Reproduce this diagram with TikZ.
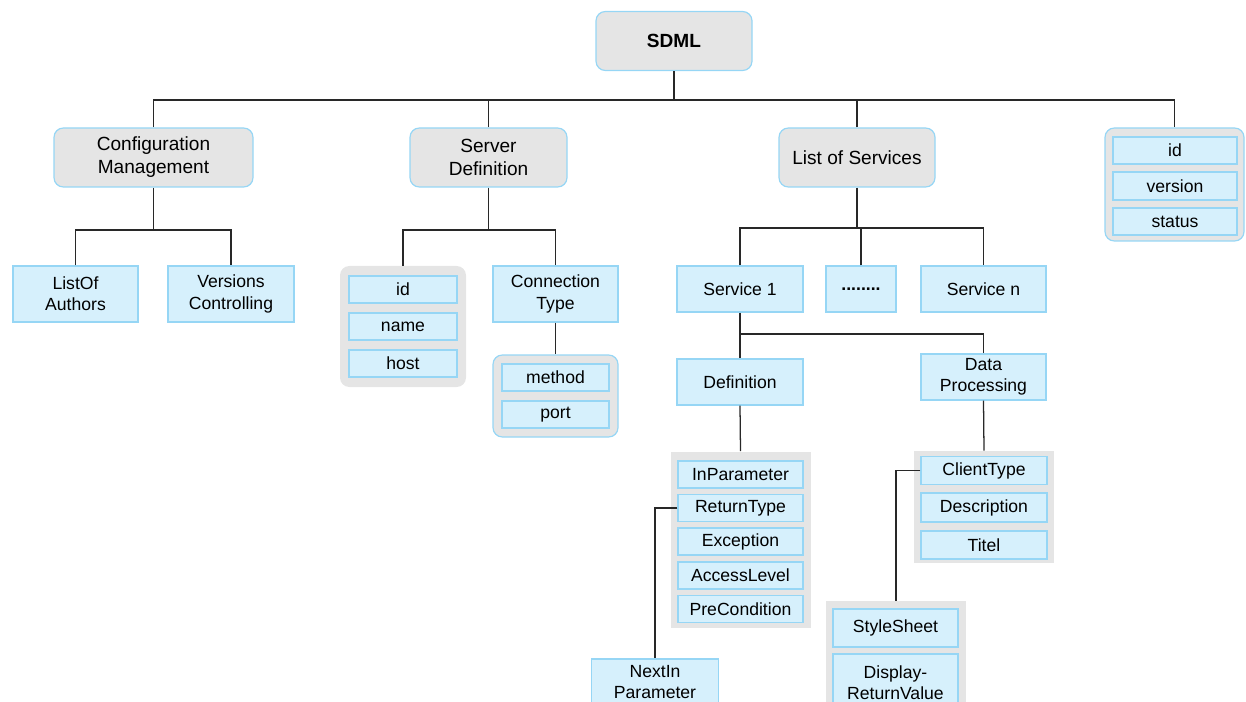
\documentclass[tikz,border=0pt]{standalone}
\usepackage{fontspec}
\setmainfont{Liberation Sans}
\definecolor{boxfill}{RGB}{214,240,252}
\definecolor{boxline}{RGB}{150,214,245}
\definecolor{grpfill}{RGB}{229,229,229}
\definecolor{wire}{RGB}{40,40,40}
\tikzset{
  sz/.style 2 args={minimum width=#1*0.75pt, minimum height=#2*0.75pt},
  topbox/.style={draw=boxline, line width=0.9pt, fill=grpfill, rounded corners=7pt,
    inner sep=0pt, align=center, font=\fontsize{14.3}{17.2}\selectfont},
  item/.style={draw=boxline, line width=0.9pt, fill=boxfill, inner sep=0pt,
    align=center, font=\fontsize{13.2}{16}\selectfont},
  grp/.style={fill=grpfill, inner sep=0pt},
  rgrp/.style={grp, rounded corners=7pt},
  bgrp/.style={rgrp, draw=boxline, line width=0.9pt},
  wirestyle/.style={draw=wire, line width=0.95pt},
}
\begin{document}
\begin{tikzpicture}[x=0.75pt,y=-0.75pt]
\useasboundingbox (0,0) rectangle (1246,702);
\clip (0,0) rectangle (1246,702);

% top level
\node[topbox, sz={156}{59}, font=\fontsize{14.3}{17.2}\selectfont\bfseries] (sdml) at (674,41) {SDML};
\node[topbox, sz={199}{59}] (cm) at (153.5,157.5) {Configuration\\Management};
\node[topbox, sz={157}{59}] (sd) at (488.5,157.5) {Server\\Definition};
\node[topbox, sz={156}{59}] (ls) at (857,157.5) {List of Services};

% attribute group on the right
\node[bgrp, sz={139}{113}] (rg) at (1174.5,184.5) {};
\node[item, sz={124}{27}] (rid) at (1175,150.5) {id};
\node[item, sz={124}{28}] (rver) at (1175,186) {version};
\node[item, sz={124}{27}] (rstat) at (1175,221.5) {status};

% configuration management
\node[item, sz={125}{56}] (la) at (75.5,294) {ListOf\\Authors};
\node[item, sz={126}{56}] (vc) at (231,294) {Versions\\Controlling};

% server definition
\node[rgrp, sz={126}{121}] (sg) at (403,326.5) {};
\node[item, sz={108}{27}] (sid) at (403,289.5) {id};
\node[item, sz={108}{27}] (sname) at (403,326.5) {name};
\node[item, sz={108}{27}] (shost) at (403,363.5) {host};
\node[item, sz={125}{56}] (ct) at (555.5,294) {Connection\\Type};
\node[bgrp, sz={125}{82}] (mg) at (555.5,396) {};
\node[item, sz={107}{27}] (meth) at (555.5,377.5) {method};
\node[item, sz={107}{27}] (port) at (555.5,414.5) {port};

% list of services
\node[item, sz={126}{46}] (s1) at (740,289) {Service 1};
\node[item, sz={70}{46}, font=\fontsize{13.2}{16}\selectfont\bfseries] (dots) at (861,289) {........};
\node[item, sz={125}{46}] (sn) at (983.5,289) {Service n};
\node[item, sz={126}{46}] (def) at (740,382) {Definition};
\node[item, sz={125}{46}] (dp) at (983.5,377) {Data\\Processing};

% definition members
\node[grp, sz={140}{176}] (dg) at (740.5,539.5) {};
\node[item, sz={125}{27}] (inp) at (740.5,474.5) {InParameter};
\node[item, sz={125}{27}] (rt) at (740.5,508) {ReturnType};
\node[item, sz={125}{27}] (exc) at (740.5,541.5) {Exception};
\node[item, sz={125}{27}] (acc) at (740.5,575.5) {AccessLevel};
\node[item, sz={125}{27}] (pre) at (740.5,609) {PreCondition};
\node[item, sz={127}{46}] (nip) at (655,682) {NextIn\\Parameter};

% data processing members
\node[grp, sz={140}{112}] (dpg) at (984,507) {};
\node[item, sz={126}{28}] (clt) at (984,470.5) {ClientType};
\node[item, sz={126}{29}] (desc) at (984,507.5) {Description};
\node[item, sz={126}{28}] (tit) at (984,545) {Titel};
\node[grp, sz={140}{121}] (ssg) at (896,661.5) {};
\node[item, sz={125}{38}] (ss) at (895.5,628) {StyleSheet};
\node[item, sz={125}{58}] (drv) at (895.5,683) {Display-\\ReturnValue};

% bus levels
\coordinate (bus) at (0,100);
\coordinate (cmb) at (0,230);
\coordinate (sdb) at (0,230);
\coordinate (lsb) at (0,228);
\coordinate (s1b) at (0,334);

% connectors
\path[wirestyle] (sdml.south) -- (sdml.south |- bus);
\path[wirestyle] (cm.north) -- (cm.north |- bus) -- (rg.north |- bus) -- (rg.north);
\path[wirestyle] (sd.north) -- (sd.north |- bus);
\path[wirestyle] (ls.north) -- (ls.north |- bus);

\path[wirestyle] (cm.south) -- (cm.south |- cmb);
\path[wirestyle] (la.north) -- (la.north |- cmb) -| (vc.north);

\path[wirestyle] (sd.south) -- (sd.south |- sdb);
\path[wirestyle] (sg.north) -- (sg.north |- sdb) -| (ct.north);
\path[wirestyle] (ct.south) -- (mg.north);

\path[wirestyle] (ls.south) -- (ls.south |- lsb);
\path[wirestyle] (s1.north) -- (s1.north |- lsb) -| (sn.north);
\path[wirestyle] (dots.north) -- (dots.north |- lsb);

\path[wirestyle] (s1.south) -- (def.north);
\path[wirestyle] (s1.south |- s1b) -| (dp.north);
\path[wirestyle] (def.south) -- (dg.north);
\path[wirestyle] (dp.south) -- (dpg.north);

\path[wirestyle] (rt.west) -| (nip.north);
\path[wirestyle] (clt.west) -| (ssg.north);
\end{tikzpicture}
\end{document}
